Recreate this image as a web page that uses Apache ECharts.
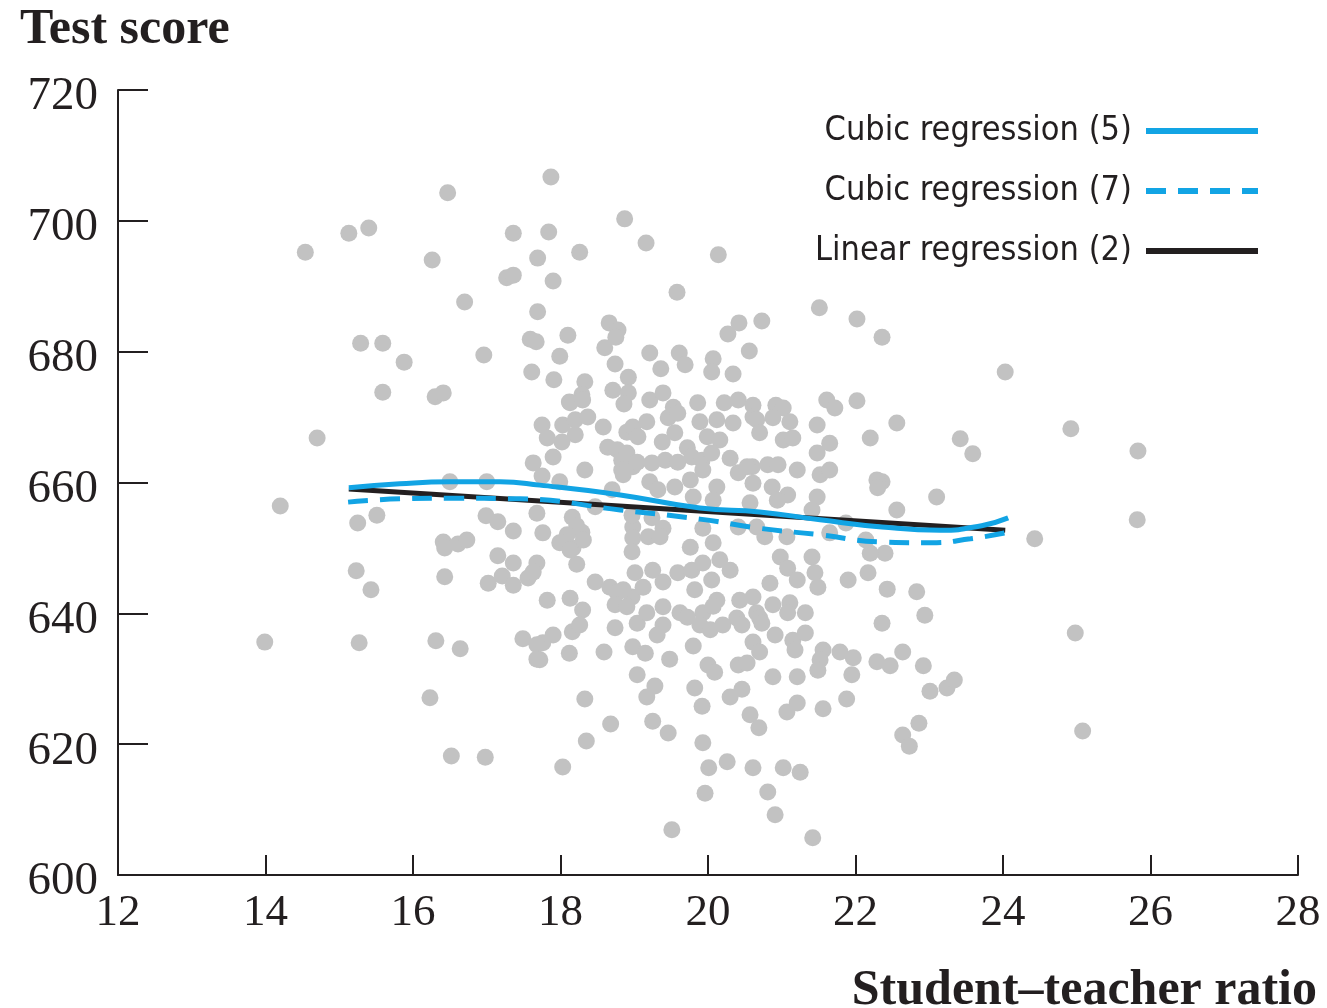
<!DOCTYPE html>
<html>
<head>
<meta charset="utf-8">
<script src="https://cdn.jsdelivr.net/npm/echarts@6/dist/echarts.min.js"></script>
<style>
html,body{margin:0;padding:0;background:#fff;}
#chart{width:1327px;height:1008px;}
</style>
</head>
<body>
<div id="chart"></div>
<script>
// Student–teacher ratio (x) and test score (y) for each district
const strRatio = [
13.99,14.20,14.54,14.70,15.13,15.40,15.29,15.59,15.88,15.59,15.25,15.51,15.23,15.43,15.27,16.26,16.47,16.70,16.96,16.30,
16.41,16.31,16.64,16.23,16.52,16.98,16.43,16.41,16.43,16.61,16.73,16.50,17.00,16.99,17.15,17.36,17.15,17.36,17.21,17.02,
17.36,17.87,17.36,17.84,18.26,17.69,17.27,17.36,17.90,17.69,17.59,17.67,18.10,17.99,17.61,17.91,18.33,18.29,18.12,18.66,
18.78,18.75,18.60,18.74,18.92,18.71,18.92,18.86,18.87,19.16,19.58,19.21,19.36,19.61,19.69,19.21,19.39,19.53,19.86,20.14,
21.51,22.02,22.36,20.73,20.42,20.27,20.56,20.07,20.05,20.34,20.22,20.41,20.61,20.92,21.02,21.61,21.72,22.02,24.03,22.56,
23.42,23.59,24.92,25.83,22.36,23.10,22.56,25.82,24.43,22.40,22.43,22.83,22.94,22.36,22.64,22.47,22.92,23.01,23.24,23.34,
22.86,22.64,22.73,24.98,25.08,18.13,18.30,17.75,17.82,18.03,18.20,18.37,18.58,18.20,18.02,18.64,18.77,18.90,18.98,18.83,
18.83,18.98,17.90,17.63,17.75,18.33,18.70,18.47,17.68,17.76,18.16,18.22,18.29,18.09,17.99,18.17,18.31,18.22,18.13,17.68,
17.56,17.63,17.82,18.13,18.30,18.47,18.67,18.77,18.74,18.98,18.98,18.97,19.01,18.97,19.17,19.46,19.59,19.89,20.12,20.34,
20.61,19.05,19.38,19.55,19.72,19.99,20.16,18.90,19.04,19.24,19.42,19.59,19.78,19.92,20.05,20.30,20.41,20.60,20.61,18.85,
19.21,19.32,19.55,19.76,19.93,20.12,19.80,20.07,18.97,19.24,19.39,19.19,19.35,19.76,19.93,20.07,20.41,20.66,19.25,19.12,
18.85,19.39,19.59,19.78,19.93,20.16,20.30,20.05,19.82,20.12,20.43,18.90,19.39,19.62,19.93,20.61,20.66,20.66,20.88,21.11,
21.48,20.70,21.02,21.15,21.48,21.65,22.20,20.53,20.81,20.95,21.21,21.52,21.65,22.29,22.30,20.87,21.08,21.48,20.57,20.94,
21.41,20.77,21.07,21.65,22.20,20.98,21.08,21.21,21.41,21.45,21.49,20.84,21.90,22.17,20.88,21.11,21.32,20.70,21.87,22.14,
17.90,17.76,17.72,18.16,18.26,18.12,18.59,18.74,19.04,19.17,19.39,19.31,18.98,19.15,19.48,19.72,19.89,20.03,19.80,20.00,
20.09,19.04,19.28,19.17,19.82,19.92,18.33,18.68,18.35,18.03,19.25,19.46,19.93,20.01,19.96,19.51,17.49,17.68,17.68,21.08,
20.73,20.91,20.61,20.70,21.15,21.18,21.32,21.56,21.52,21.49,21.79,21.97,21.95,22.29,21.88,21.56,21.21,21.07,20.57,20.69,
20.46,20.30,20.88,21.21,20.41,20.53,20.20,20.39,20.46,20.07,20.26,20.61,21.02,21.25,20.81,20.91,21.42,17.99
];
const testScore = [
635.6,656.4,695.2,666.8,698.1,698.9,681.3,681.3,678.4,673.8,653.8,655.0,646.5,643.6,635.5,694.0,704.3,687.6,679.5,673.1,
673.7,635.8,634.6,627.1,618.2,618.0,645.6,650.9,650.0,650.6,651.2,660.1,660.1,654.9,654.0,652.6,648.8,647.7,645.7,644.6,
644.3,706.7,698.1,698.3,695.2,694.3,691.3,691.7,690.8,686.1,681.9,681.5,682.5,679.3,676.9,675.7,675.4,673.4,672.3,684.4,
683.3,682.2,680.6,678.1,676.1,674.1,673.7,672.0,700.3,696.6,689.1,679.8,677.4,679.8,678.0,672.6,673.7,671.5,672.2,694.8,
686.7,685.0,682.2,684.7,684.4,682.7,680.1,678.9,676.9,676.6,672.2,672.6,671.8,671.8,671.4,672.6,671.4,672.5,676.9,669.1,
666.7,664.4,668.2,664.8,660.1,657.8,655.8,654.3,651.4,649.2,643.7,643.3,639.7,638.5,634.1,632.0,632.0,628.1,628.6,629.8,
623.2,621.4,619.7,637.0,622.0,672.2,672.6,668.8,666.8,668.8,669.6,670.0,668.5,667.3,666.2,665.4,665.0,667.7,668.5,663.4,
661.9,662.4,663.9,663.0,661.0,661.9,658.9,656.3,655.3,652.3,654.7,653.4,652.4,652.0,650.8,650.0,651.2,647.5,649.7,647.7,
645.4,646.3,642.0,642.3,640.5,644.8,644.0,643.1,641.3,653.2,651.5,649.4,646.2,642.5,669.3,669.9,670.6,669.3,669.6,669.1,
670.0,667.0,666.2,667.6,665.3,667.0,666.5,664.5,663.1,663.0,663.4,663.1,663.9,663.4,664.5,663.7,661.5,662.4,659.9,661.2,
660.1,658.9,659.3,660.4,661.9,659.3,657.8,657.3,655.0,654.6,653.0,651.7,651.7,650.1,653.0,650.8,653.2,653.2,646.6,644.0,
643.6,644.8,646.2,646.6,647.7,648.2,646.6,645.1,643.6,642.0,642.0,641.0,641.0,640.1,640.1,642.5,640.1,669.6,669.9,669.3,
668.8,667.6,666.5,666.8,664.5,666.0,666.8,662.4,662.7,662.7,661.9,661.2,661.9,660.4,659.2,659.3,658.1,657.8,656.9,657.3,
655.8,651.7,651.7,652.3,649.2,648.6,646.9,645.1,648.6,646.2,644.0,644.6,645.1,646.2,641.3,641.6,640.1,639.3,653.8,651.2,
636.7,635.5,632.9,637.2,638.2,633.9,634.1,637.8,638.5,640.1,638.2,636.7,634.9,633.9,633.0,639.4,638.2,637.5,635.0,632.1,
631.0,630.6,628.9,627.2,628.6,625.8,626.9,623.1,620.5,616.5,623.5,621.7,620.2,616.4,612.5,606.9,636.1,635.2,633.0,640.1,
638.5,636.7,635.6,634.1,635.9,634.4,637.0,634.4,632.9,631.3,634.1,633.2,630.6,632.6,626.9,625.4,626.3,624.9,624.5,622.5,
628.4,627.2,630.3,630.3,632.1,632.4,638.2,639.3,638.2,641.1,617.3,616.4,616.4,615.7,612.7,609.2,605.7,660.1
];

// Fitted regression curves
const cubic5X = [15.13, 15.82, 16.50, 17.18, 17.72, 18.81, 19.89, 20.70, 21.52, 22.36, 23.15, 23.71, 24.07];
const cubic5Y = [659.2, 659.8, 660.1, 660.1, 659.6, 658.1, 656.1, 655.5, 654.3, 653.2, 652.7, 653.4, 654.6];
const cubic7X = [15.12, 15.82, 16.50, 17.45, 18.81, 19.89, 20.70, 21.52, 22.36, 23.02, 23.56, 24.03];
const cubic7Y = [657.0, 657.5, 657.6, 657.5, 655.8, 654.4, 653.0, 652.0, 650.9, 650.8, 651.4, 652.3];
const linearX = [15.13, 24.03];
const linearY = [659.0, 652.7];

const seriesNames = ['Cubic regression (5)', 'Cubic regression (7)', 'Linear regression (2)'];
const xTicks = [12, 28, 2];
const yTicks = [600, 720, 20];

const zip = (a, b) => a.map((v, i) => [v, b[i]]);
const BLUE = '#12a4e4';
const INK = '#231f20';
const serif = "'Liberation Serif', 'DejaVu Serif', serif";
const narrow = "'Liberation Sans Narrow', 'DejaVu Sans Condensed', sans-serif";
const hiddenMarker = {opacity: 0};

const chart = echarts.init(document.getElementById('chart'), null, {renderer: 'canvas'});
chart.setOption({
  animation: false,
  backgroundColor: '#ffffff',
  grid: {left: 118, right: 29, top: 90, bottom: 133},
  title: [
    {text: 'Test score', left: 15, top: 0,
     textStyle: {fontFamily: serif, fontWeight: 'bold', fontSize: 50, color: INK}},
    {text: 'Student\u2013teacher ratio', right: 5, top: 961,
     textStyle: {fontFamily: serif, fontWeight: 'bold', fontSize: 50, color: INK}}
  ],
  legend: {
    orient: 'vertical', right: 61, top: 106, align: 'right',
    itemWidth: 112, itemHeight: 20, itemGap: 20,
    textStyle: {fontFamily: narrow, fontSize: 34, color: INK, lineHeight: 40, padding: [0, 9, 0, 0]},
    data: [
      {name: seriesNames[0], itemStyle: hiddenMarker, lineStyle: {width: 6, color: BLUE, type: 'solid'}},
      {name: seriesNames[1], itemStyle: hiddenMarker, lineStyle: {width: 6, color: BLUE, type: [20, 12]}},
      {name: seriesNames[2], itemStyle: hiddenMarker, lineStyle: {width: 6, color: INK, type: 'solid'}}
    ]
  },
  xAxis: {
    type: 'value', min: xTicks[0], max: xTicks[1], interval: xTicks[2],
    splitLine: {show: false},
    axisLine: {lineStyle: {color: INK, width: 2}},
    axisTick: {inside: true, length: 20, lineStyle: {color: INK, width: 2}},
    axisLabel: {fontFamily: serif, fontSize: 45, color: INK, margin: 16}
  },
  yAxis: {
    type: 'value', min: yTicks[0], max: yTicks[1], interval: yTicks[2],
    splitLine: {show: false},
    axisLine: {show: true, lineStyle: {color: INK, width: 2}},
    axisTick: {show: true, inside: true, length: 30, lineStyle: {color: INK, width: 2}},
    axisLabel: {fontFamily: serif, fontSize: 47, color: INK, margin: 20, verticalAlign: 'top', lineHeight: 14}
  },
  series: [
    {type: 'scatter', data: zip(strRatio, testScore), symbolSize: 17,
     itemStyle: {color: '#c2c2c2', opacity: 1}, z: 1, silent: true},
    {name: seriesNames[0], type: 'line', data: zip(cubic5X, cubic5Y), smooth: true,
     symbol: 'none', lineStyle: {color: BLUE, width: 5}, itemStyle: {color: BLUE}, z: 3},
    {name: seriesNames[1], type: 'line', data: zip(cubic7X, cubic7Y), smooth: true,
     symbol: 'none', lineStyle: {color: BLUE, width: 5, type: [20, 12]}, itemStyle: {color: BLUE}, z: 3},
    {name: seriesNames[2], type: 'line', data: zip(linearX, linearY),
     symbol: 'none', lineStyle: {color: INK, width: 5}, itemStyle: {color: INK}, z: 2}
  ]
});
</script>
</body>
</html>
